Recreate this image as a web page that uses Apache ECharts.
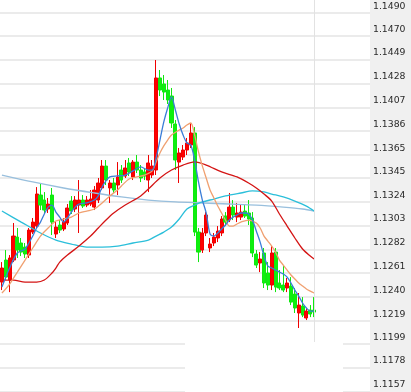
<!DOCTYPE html>
<html><head><meta charset="utf-8">
<script src="https://cdn.jsdelivr.net/npm/echarts@6/dist/echarts.min.js"></script>
<style>html,body{margin:0;padding:0;background:#fff}#c{width:411px;height:392px}</style>
</head><body><div id="c"></div>
<script>
// candle values: [open, close, low, high]
const opens  = [1.12532,1.12726,1.1255,1.12726,1.12928,1.12876,1.1284,1.1277,1.12972,1.13025,1.13298,1.13254,1.13175,1.13298,1.12955,1.13034,1.12999,1.13052,1.13245,1.13175,1.1321,1.13254,1.1321,1.13219,1.13192,1.13254,1.1336,1.13553,1.1336,1.13404,1.13386,1.13518,1.13465,1.1358,1.13456,1.13588,1.13518,1.135,1.1343,1.13474,1.13518,1.14328,1.14275,1.14222,1.14169,1.13923,1.13588,1.13632,1.13694,1.13738,1.13844,1.12972,1.12814,1.12964,1.12832,1.12876,1.1292,1.12964,1.13113,1.13078,1.13192,1.13104,1.13104,1.13157,1.1314,1.13096,1.12779,1.127,1.12788,1.12612,1.12506,1.12796,1.12524,1.12506,1.1248,1.12497,1.12427,1.1226,1.12321,1.12216,1.12286,1.12286];
const closes = [1.12656,1.12576,1.12744,1.12937,1.12814,1.12796,1.12779,1.1299,1.1306,1.13307,1.1321,1.13166,1.13219,1.1306,1.13016,1.1299,1.1306,1.13184,1.13157,1.13254,1.13254,1.13201,1.13254,1.13263,1.13342,1.13404,1.13553,1.1343,1.13404,1.13342,1.13456,1.1343,1.13536,1.135,1.13588,1.13518,1.13448,1.13465,1.1358,1.13553,1.14328,1.14222,1.14204,1.14134,1.13932,1.13606,1.13668,1.13694,1.13756,1.13844,1.12972,1.12796,1.12964,1.13122,1.12867,1.12928,1.12981,1.13087,1.1306,1.13192,1.13122,1.1314,1.13148,1.13113,1.13087,1.12788,1.12682,1.12735,1.12524,1.12506,1.12788,1.12488,1.1248,1.12462,1.12524,1.12356,1.12304,1.1233,1.12242,1.12277,1.12251,1.12268];
const lows   = [1.12462,1.1255,1.12444,1.12708,1.12744,1.12761,1.12744,1.12744,1.12955,1.13008,1.13166,1.13131,1.1314,1.12946,1.1292,1.12964,1.12981,1.13034,1.13131,1.13148,1.12964,1.13184,1.13192,1.13201,1.13166,1.13228,1.13342,1.13386,1.13228,1.13316,1.13298,1.13404,1.13448,1.13465,1.1343,1.13492,1.13412,1.1343,1.13324,1.13448,1.13474,1.14169,1.14134,1.14099,1.13888,1.13518,1.13404,1.13606,1.1365,1.13712,1.12937,1.12708,1.12788,1.12937,1.12796,1.12849,1.12884,1.12937,1.13025,1.1306,1.13078,1.1306,1.13078,1.13096,1.13034,1.12752,1.12656,1.1262,1.1248,1.12462,1.12462,1.12444,1.12462,1.12444,1.12444,1.1233,1.1226,1.12128,1.12224,1.12198,1.12224,1.12224];
const highs  = [1.12708,1.12814,1.1277,1.13052,1.13008,1.1292,1.12876,1.13008,1.13096,1.13368,1.13404,1.13324,1.13272,1.1336,1.1306,1.13078,1.13096,1.13219,1.13289,1.13289,1.1343,1.13298,1.13289,1.13342,1.13377,1.13448,1.13606,1.13606,1.1343,1.13448,1.13588,1.13562,1.13606,1.13624,1.13606,1.1365,1.13562,1.13536,1.1365,1.13606,1.14486,1.14398,1.14354,1.1431,1.1424,1.13958,1.13712,1.13738,1.138,1.13932,1.13896,1.13008,1.13008,1.13148,1.1292,1.12964,1.13025,1.13113,1.13148,1.13316,1.13254,1.13228,1.13219,1.1321,1.13254,1.13148,1.12814,1.12796,1.12832,1.12708,1.12849,1.12832,1.12638,1.12682,1.12568,1.12576,1.1248,1.12436,1.124,1.12304,1.1233,1.124];

// moving-average lines (null = not read, joined by the library)
const _ = null;
const ma5 = [1.12488,_,1.12656,_,1.12788,_,1.12823,1.12876,1.12937,1.13008,1.1306,1.13131,1.13192,1.1321,1.13148,1.13104,1.1306,1.13096,1.13148,1.13192,1.13219,_,1.13228,_,1.13254,1.1329,1.13369,1.13422,1.13457,_,1.13466,_,1.13474,_,1.1351,_,1.13545,_,1.13518,1.13518,1.13624,1.13782,1.13941,1.14064,1.14161,1.14046,1.13923,1.13826,1.13756,1.13738,1.13606,1.13413,1.13254,1.1314,1.12955,1.12937,1.12964,1.12999,1.13034,1.13078,1.13104,1.13122,1.1314,1.1314,1.13131,1.13078,1.12981,1.12884,1.12761,1.12673,1.12656,1.12638,1.1262,1.12603,1.12576,1.12524,1.12462,1.12409,1.12348,1.12304,1.12277,1.12277];
const ma10 = [1.12436,_,1.12515,_,1.1262,_,1.12726,_,1.12832,_,1.12937,_,1.13008,_,1.13069,_,1.13087,_,1.13104,_,1.1314,_,1.13157,_,1.13175,_,1.13228,_,1.1329,_,1.13342,1.13378,_,1.13439,_,1.13457,_,1.13474,_,1.1351,1.13589,1.13668,1.1373,1.13782,1.13826,_,1.1387,1.13888,1.13914,1.13932,1.13826,1.13677,1.13554,1.13448,1.13342,1.13272,1.13201,1.1314,1.13078,1.13025,1.13025,1.13043,1.1306,_,1.13078,_,1.13052,1.13008,1.12937,1.12893,1.12849,1.12796,1.12726,1.12682,1.12638,1.12594,1.12559,1.12524,1.12497,1.12471,1.12453,1.12436];
const ma30 = [1.1255,_,_,1.1255,_,_,1.12532,_,_,1.12532,_,1.1255,_,1.12612,1.12656,1.12708,_,1.1277,_,_,1.12849,_,_,1.12937,_,1.13008,_,1.13078,_,1.1314,_,_,1.1321,_,_,_,1.1329,_,1.13351,_,_,1.13448,_,_,1.13518,_,_,1.13562,_,_,1.13589,_,_,1.13562,_,_,_,1.13501,_,_,_,1.13457,_,_,1.13404,_,1.1336,_,1.13307,_,1.13245,_,1.13131,_,1.13025,_,1.1292,_,1.12823,_,1.12761,1.12735];
const ma60 = [1.13157,_,_,_,_,1.1306,_,_,_,_,1.12964,_,_,_,1.12902,_,_,_,1.12867,_,_,_,1.1284,_,_,_,1.1284,_,_,_,1.12849,_,_,_,1.12876,_,_,_,1.12902,_,1.12937,_,1.12972,_,1.13016,_,1.13087,_,1.13175,_,1.1321,_,1.13237,_,_,1.13263,_,_,1.1329,_,_,_,1.13316,_,_,1.13334,_,_,1.13325,_,1.13307,_,_,1.13281,_,_,1.13245,_,_,1.13201,_,1.13157];
const ma120 = [1.13474,_,_,_,_,_,_,_,1.13413,_,_,_,_,_,_,_,1.1336,_,_,_,_,_,_,_,1.13316,_,_,_,_,_,_,1.13281,_,_,_,_,_,_,1.13254,_,_,_,_,_,_,1.13237,_,_,_,_,_,_,1.13228,_,_,_,_,_,_,1.13219,_,_,_,_,_,_,1.1321,_,_,_,_,_,_,1.13192,_,_,_,_,1.13175,_,_,1.13157];

const yTickLabels = ['1.1157','1.1178','1.1199','1.1219','1.1240','1.1261','1.1282','1.1303','1.1324','1.1345','1.1365','1.1386','1.1407','1.1428','1.1449','1.1470','1.1490'];
const yTicks = yTickLabels.map(Number);
const slotCount = 96; // visible bar slots incl. empty space on the right
const categories = [];
for (let i = 0; i < slotCount; i++) categories.push(String(i + 1));

const candleData = opens.map((o, i) => [o, closes[i], lows[i], highs[i]]);

const chart = echarts.init(document.getElementById('c'), null, {renderer: 'canvas'});
function ma(name, data, color, w) {
  return {name, type: 'line', data, connectNulls: true, smooth: 0.3, symbol: 'none',
    lineStyle: {color, width: w}, itemStyle: {color}, z: 3, silent: true};
}
chart.setOption({
  animation: false,
  backgroundColor: '#f0f0f0',
  grid: {left: 0, right: 41, top: 0, bottom: 0, show: true, backgroundColor: '#ffffff', borderWidth: 0},
  xAxis: {type: 'category', data: categories, boundaryGap: true, show: false},
  yAxis: {
    type: 'value', position: 'right', min: 1.11565, max: 1.15014,
    axisLine: {show: false},
    axisTick: {show: false, customValues: yTicks},
    splitLine: {show: true, lineStyle: {color: '#e4e4e4', width: 1.6}},
    axisLabel: {customValues: yTicks, formatter: v => v.toFixed(4), color: '#2a2a2a', fontFamily: 'DejaVu Sans',
      fontSize: 9.3, margin: 3, align: 'left', verticalAlign: 'bottom', padding: [0, 0, 2, 0]}
  },
  graphic: [{type: 'rect', left: 185, top: 342, shape: {width: 158, height: 50}, style: {fill: '#ffffff'}, z: 100}],
  series: [
    ma('MA120', ma120, '#98bfdd', 1.3),
    ma('MA60', ma60, '#2bbfda', 1.3),
    ma('MA30', ma30, '#d41414', 1.3),
    ma('MA10', ma10, '#f0a070', 1.3),
    ma('MA5', ma5, '#3a7dd8', 1.3),
    {
      name: 'K', type: 'candlestick', data: candleData, barWidth: 3.6, z: 2,
      itemStyle: {color: '#ff0000', color0: '#0ef00e', borderColor: '#f00000', borderColor0: '#10e810', borderWidth: 1},
      markLine: {silent: true, symbol: 'none', label: {show: false},
        lineStyle: {color: '#e2e2e2', width: 1, type: 'solid'},
        data: [{xAxis: opens.length - 1}]}
    }
  ]
});
</script></body></html>
